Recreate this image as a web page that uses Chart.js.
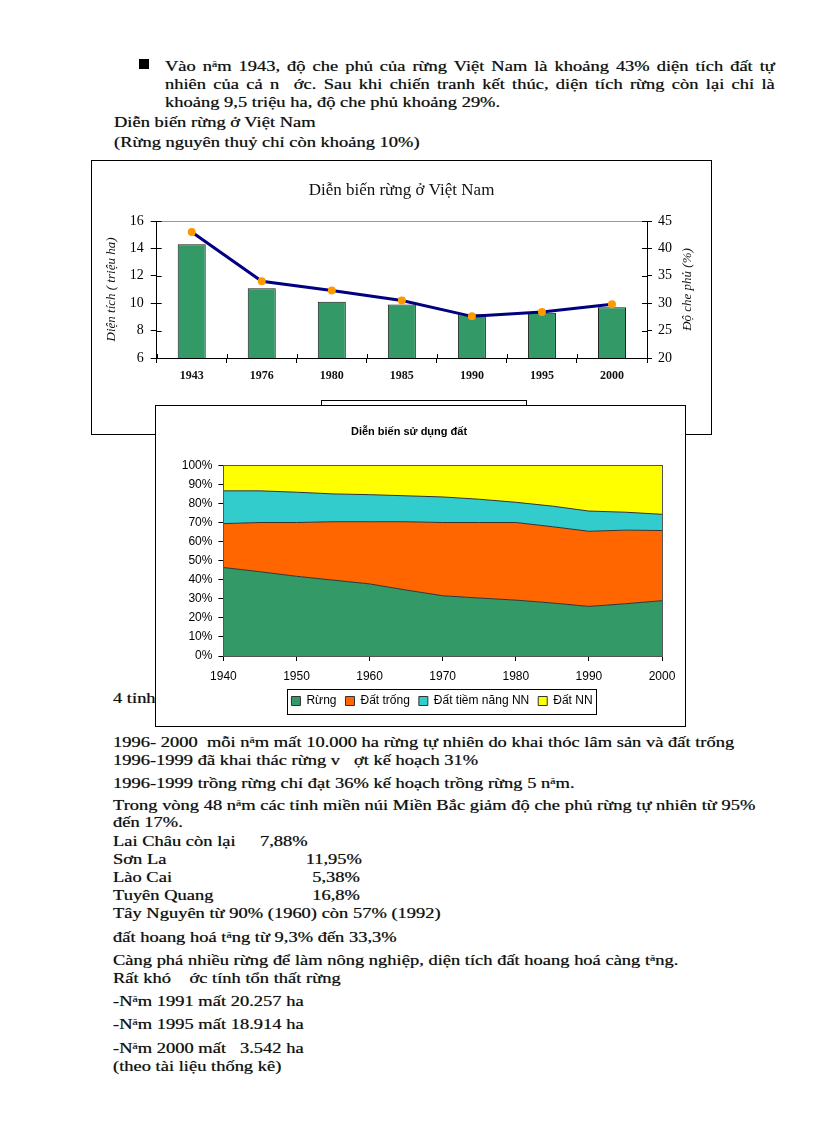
<!DOCTYPE html>
<html>
<head>
<meta charset="utf-8">
<script src="https://cdn.jsdelivr.net/npm/chart.js@4.4.1/dist/chart.umd.min.js"></script>
<style>
  body { margin: 0; background: #fff; }
  #page { position: relative; width: 816px; height: 1123px; overflow: hidden;
          font-family: "Liberation Serif", "DejaVu Serif", serif; font-size: 14px; color: #111; }
  /* the scanned text is stretched sideways, so every line is widened */
  .ln { position: absolute; white-space: pre; line-height: 18px; transform: scaleX(1.32); transform-origin: left top;
        text-shadow: 0 0 0.6px rgba(0,0,0,0.6); }
  .just { white-space: nowrap; text-align: justify; text-align-last: justify; width: 462px; }
  .rt { text-align: right; width: 60px; transform-origin: right top; }
  .up { font-size: 9px; vertical-align: 4px; line-height: 0; }
  #bullet { position: absolute; left: 139px; top: 59px; width: 10px; height: 10px; background: #000; }
  #box1 { position: absolute; left: 91px; top: 160px; width: 621px; height: 275px;
          box-sizing: border-box; border: 1px solid #000; background: #fff; }
  #box2 { position: absolute; left: 155px; top: 405px; width: 531px; height: 322px;
          box-sizing: border-box; border: 1px solid #000; background: #fff; z-index: 2; }
</style>
</head>
<body>
<div id="page">
  <div id="bullet"></div>
  <div class="ln just" style="left:165px;top:58px">Vào n<span class="up">ă</span>m 1943, độ che phủ của rừng Việt Nam là khoảng 43% diện tích đất tự</div>
  <div class="ln just" style="left:165px;top:76px">nhiên của cả n&nbsp;&nbsp;ớc. Sau khi chiến tranh kết thúc, diện tích rừng còn lại chỉ là</div>
  <div class="ln" style="left:165px;top:94px">khoảng 9,5 triệu ha, độ che phủ khoảng 29%.</div>
  <div class="ln" style="left:114px;top:114px">Diễn biến rừng ở Việt Nam</div>
  <div class="ln" style="left:114px;top:134px">(Rừng nguyên thuỷ chỉ còn khoảng 10%)</div>

  <div id="box1"><canvas id="forestChart"></canvas></div>
  <div id="box2"><canvas id="landChart"></canvas></div>

  <div class="ln" style="left:113px;top:690px">4 tỉnh</div>
  <div class="ln" style="left:113px;top:734px">1996- 2000  mỗi n<span class="up">ă</span>m mất 10.000 ha rừng tự nhiên do khai thóc lâm sản và đất trống</div>
  <div class="ln" style="left:113px;top:752px">1996-1999 đã khai thác rừng v   ợt kế hoạch 31%</div>
  <div class="ln" style="left:113px;top:775px">1996-1999 trồng rừng chỉ đạt 36% kế hoạch trồng rừng 5 n<span class="up">ă</span>m.</div>
  <div class="ln" style="left:113px;top:797px">Trong vòng 48 n<span class="up">ă</span>m các tỉnh miền núi Miền Bắc giảm độ che phủ rừng tự nhiên từ 95%</div>
  <div class="ln" style="left:113px;top:814px">đến 17%.</div>
  <div class="ln" style="left:113px;top:833px">Lai Châu còn lại</div>
  <div class="ln" style="left:260px;top:833px">7,88%</div>
  <div class="ln" style="left:113px;top:851px">Sơn La</div>
  <div class="ln rt" style="left:302px;top:851px">11,95%</div>
  <div class="ln" style="left:113px;top:869px">Lào Cai</div>
  <div class="ln rt" style="left:300px;top:869px">5,38%</div>
  <div class="ln" style="left:113px;top:887px">Tuyên Quang</div>
  <div class="ln rt" style="left:300px;top:887px">16,8%</div>
  <div class="ln" style="left:113px;top:905px">Tây Nguyên từ 90% (1960) còn 57% (1992)</div>
  <div class="ln" style="left:113px;top:929px">đất hoang hoá t<span class="up">ă</span>ng từ 9,3% đến 33,3%</div>
  <div class="ln" style="left:113px;top:952px">Càng phá nhiều rừng để làm nông nghiệp, diện tích đất hoang hoá càng t<span class="up">ă</span>ng.</div>
  <div class="ln" style="left:113px;top:970px">Rất khó    ớc tính tổn thất rừng</div>
  <div class="ln" style="left:113px;top:993px">-N<span class="up">ă</span>m 1991 mất 20.257 ha</div>
  <div class="ln" style="left:113px;top:1016px">-N<span class="up">ă</span>m 1995 mất 18.914 ha</div>
  <div class="ln" style="left:113px;top:1040px">-N<span class="up">ă</span>m 2000 mất   3.542 ha</div>
  <div class="ln" style="left:113px;top:1058px">(theo tài liệu thống kê)</div>
</div>

<script>
// Forest chart data
const forestYears = ['1943', '1976', '1980', '1985', '1990', '1995', '2000'];
const forestArea = [14.3, 11.1, 10.1, 9.9, 9.2, 9.3, 9.7];      // million ha
const forestCover = [43, 34, 32.3, 30.5, 27.6, 28.4, 29.8];    // %

// Land use data, percent of each layer
const landYears = [1940, 1945, 1950, 1955, 1960, 1965, 1970, 1975, 1980, 1985, 1990, 1995, 2000];
const rung = [46.4, 44.2, 41.8, 39.8, 37.8, 34.6, 31.6, 30.4, 29.3, 27.8, 26.0, 27.4, 29.0];
const datTrong = [23.0, 25.8, 28.2, 30.6, 32.6, 35.8, 38.4, 39.6, 40.7, 40.0, 39.4, 38.6, 36.8];
const datTiemNang = [17.2, 16.6, 15.9, 14.6, 14.2, 13.6, 13.4, 12.2, 10.6, 10.8, 10.6, 9.4, 8.5];
const datNN = [13.4, 13.4, 14.1, 15.0, 15.4, 16.0, 16.6, 17.8, 19.4, 21.4, 24.0, 24.6, 25.7];

const serif = '"Liberation Serif", "DejaVu Serif", serif';
const sans = '"Liberation Sans", Arial, sans-serif';

// Ticks that cross the axis line (inner half)
const crossTicks = {
  id: 'crossTicks',
  afterDraw(chart) {
    const {ctx, chartArea} = chart;
    ctx.save();
    ctx.strokeStyle = '#000';
    ctx.lineWidth = 1;
    ctx.beginPath();
    chart.scales.y.ticks.forEach((t, i) => {
      const py = Math.round(chart.scales.y.getPixelForTick(i)) + 0.5;
      ctx.moveTo(chartArea.left, py); ctx.lineTo(chartArea.left + 5, py);
    });
    chart.scales.y1.ticks.forEach((t, i) => {
      const py = Math.round(chart.scales.y1.getPixelForTick(i)) + 0.5;
      ctx.moveTo(chartArea.right - 5, py); ctx.lineTo(chartArea.right, py);
    });
    const n = forestYears.length;
    for (let i = 0; i <= n; i++) {
      const px = Math.round(chartArea.left + i * chartArea.width / n) + 0.5;
      ctx.moveTo(px, chartArea.bottom - 4); ctx.lineTo(px, chartArea.bottom);
    }
    ctx.stroke();
    ctx.restore();
  }
};

// Both axis titles read bottom to top
const sideTitles = {
  id: 'sideTitles',
  afterDraw(chart) {
    const {ctx, chartArea} = chart;
    const midY = (chartArea.top + chartArea.bottom) / 2;
    ctx.save();
    ctx.font = 'italic 13px ' + serif;
    ctx.fillStyle = '#111';
    ctx.textAlign = 'center';
    ctx.textBaseline = 'middle';
    [[chart.scales.y.left + 20, 'Diện tích ( triệu ha)'],
     [chart.scales.y1.right - 23, 'Độ che phủ (%)']].forEach(([x, text]) => {
      ctx.save();
      ctx.translate(x, midY);
      ctx.rotate(-Math.PI / 2);
      ctx.fillText(text, 0, 0);
      ctx.restore();
    });
    ctx.restore();
  }
};

// Legend moved sideways like in the picture, with a box round its items
const legendBox = {
  id: 'legendBox',
  afterUpdate(chart, args, opts) {
    const lg = chart.legend;
    if (!lg || !opts.dx) return;
    lg.left += opts.dx;
    lg.right += opts.dx;
    (lg.legendHitBoxes || []).forEach(b => { b.left += opts.dx; });
  },
  afterDraw(chart, args, opts) {
    const boxes = chart.legend.legendHitBoxes;
    if (!boxes || !boxes.length) return;
    const left = Math.min(...boxes.map(b => b.left)) - opts.padX;
    const right = Math.max(...boxes.map(b => b.left + b.width)) + opts.padX;
    const top = boxes[0].top - opts.padTop;
    const bottom = boxes[0].top + boxes[0].height + opts.padBottom;
    const ctx = chart.ctx;
    ctx.save();
    ctx.strokeStyle = '#000';
    ctx.lineWidth = 1;
    ctx.strokeRect(Math.round(left) + 0.5, Math.round(top) + 0.5, Math.round(right - left), Math.round(bottom - top));
    ctx.restore();
  }
};

// Frame round the plot area
const plotFrame = {
  id: 'plotFrame',
  afterDatasetsDraw(chart) {
    const {ctx, chartArea} = chart;
    ctx.save();
    ctx.strokeStyle = '#555';
    ctx.lineWidth = 1;
    ctx.strokeRect(Math.round(chartArea.left) + 0.5, Math.round(chartArea.top) + 0.5,
                   Math.round(chartArea.width), Math.round(chartArea.height));
    ctx.restore();
  }
};

new Chart(document.getElementById('forestChart'), {
  data: {
    labels: forestYears,
    datasets: [
      {
        type: 'line',
        label: 'Độ che phủ (%)',
        data: forestCover,
        yAxisID: 'y1',
        borderColor: '#000080',
        borderWidth: 3,
        pointRadius: 2.5,
        pointBackgroundColor: '#ff9900',
        pointBorderColor: '#ff9900',
        tension: 0
      },
      {
        type: 'bar',
        label: 'Diện tích (triệu ha)',
        data: forestArea,
        yAxisID: 'y',
        backgroundColor: '#339966',
        borderColor: '#1a1a1a',
        borderWidth: 1,
        categoryPercentage: 1,
        barPercentage: 0.4
      }
    ]
  },
  options: {
    responsive: true,
    maintainAspectRatio: false,
    animation: false,
    layout: { padding: { left: 0, right: 0, top: 0, bottom: 5 } },
    plugins: {
      title: {
        display: true,
        text: 'Diễn biến rừng ở Việt Nam',
        color: '#111',
        font: { family: serif, size: 17, weight: 'normal' },
        padding: { top: 19, bottom: 20.6 }
      },
      legend: {
        position: 'bottom',
        reverse: true,
        labels: { font: { family: serif, size: 11 }, color: '#111', boxWidth: 9, boxHeight: 9, padding: 10 }
      },
      legendBox: { dx: 22, padX: 6, padTop: 8, padBottom: 4 },
      tooltip: { enabled: false }
    },
    scales: {
      x: {
        offset: true,
        grid: { offset: true, drawOnChartArea: false, tickLength: 5, color: '#000' },
        border: { color: '#000' },
        ticks: { color: '#111', font: { family: serif, size: 12, weight: 'bold' }, padding: 6, maxRotation: 0 },
        afterFit: s => { s.height = 40; }
      },
      y: {
        position: 'left',
        min: 6, max: 16,
        ticks: { stepSize: 2, color: '#000', font: { family: serif, size: 14 }, padding: 7 },
        grid: {
          color: c => c.tick.value === 16 ? '#999' : 'rgba(0,0,0,0)',
          tickColor: '#000',
          tickLength: 6
        },
        border: { color: '#000' },
        afterFit: s => { s.width = 64.7; }
      },
      y1: {
        position: 'right',
        min: 20, max: 45,
        ticks: { stepSize: 5, color: '#000', font: { family: serif, size: 14 }, padding: 6 },
        grid: { drawOnChartArea: false, tickColor: '#000', tickLength: 5 },
        border: { color: '#000' },
        afterFit: s => { s.width = 64; }
      }
    }
  },
  plugins: [crossTicks, sideTitles, legendBox]
});

function layer(label, values, color, fill) {
  return {
    label: label,
    data: landYears.map((y, i) => ({ x: y, y: values[i] })),
    backgroundColor: color,
    borderColor: '#333',
    borderWidth: 1,
    pointRadius: 0,
    tension: 0,
    fill: fill
  };
}

new Chart(document.getElementById('landChart'), {
  type: 'line',
  data: {
    datasets: [
      layer('Rừng', rung, '#339966', 'origin'),
      layer('Đất trống', datTrong, '#ff6600', '-1'),
      layer('Đất tiềm năng NN', datTiemNang, '#33cccc', '-1'),
      layer('Đất NN', datNN, '#ffff00', '-1')
    ]
  },
  options: {
    responsive: true,
    maintainAspectRatio: false,
    animation: false,
    layout: { padding: { left: 0, right: 23, top: 0, bottom: 9 } },
    plugins: {
      title: {
        display: true,
        text: 'Diễn biến sử dụng đất',
        color: '#000',
        font: { family: sans, size: 11, weight: 'bold' },
        padding: { top: 19.4, bottom: 26.7 }
      },
      legend: {
        position: 'bottom',
        labels: { font: { family: sans, size: 12 }, color: '#000', boxWidth: 9, boxHeight: 9, padding: 9 }
      },
      legendBox: { dx: 33, padX: 4, padTop: 6, padBottom: 7 },
      tooltip: { enabled: false }
    },
    scales: {
      x: {
        type: 'linear',
        min: 1940, max: 2000,
        ticks: { stepSize: 10, color: '#000', font: { family: sans, size: 12 }, padding: 8,
                 callback: v => String(v) },
        grid: { drawOnChartArea: false, tickLength: 5, color: '#000' },
        border: { color: '#000' },
        afterFit: s => { s.height = 30; }
      },
      y: {
        stacked: true,
        min: 0, max: 100,
        ticks: { stepSize: 10, color: '#000', font: { family: sans, size: 12 }, padding: 6,
                 callback: v => v + '%' },
        grid: { drawOnChartArea: false, tickLength: 5, color: '#000' },
        border: { color: '#000' },
        afterFit: s => { s.width = 67.4; }
      }
    }
  },
  plugins: [plotFrame, legendBox]
});
</script>
</body>
</html>
